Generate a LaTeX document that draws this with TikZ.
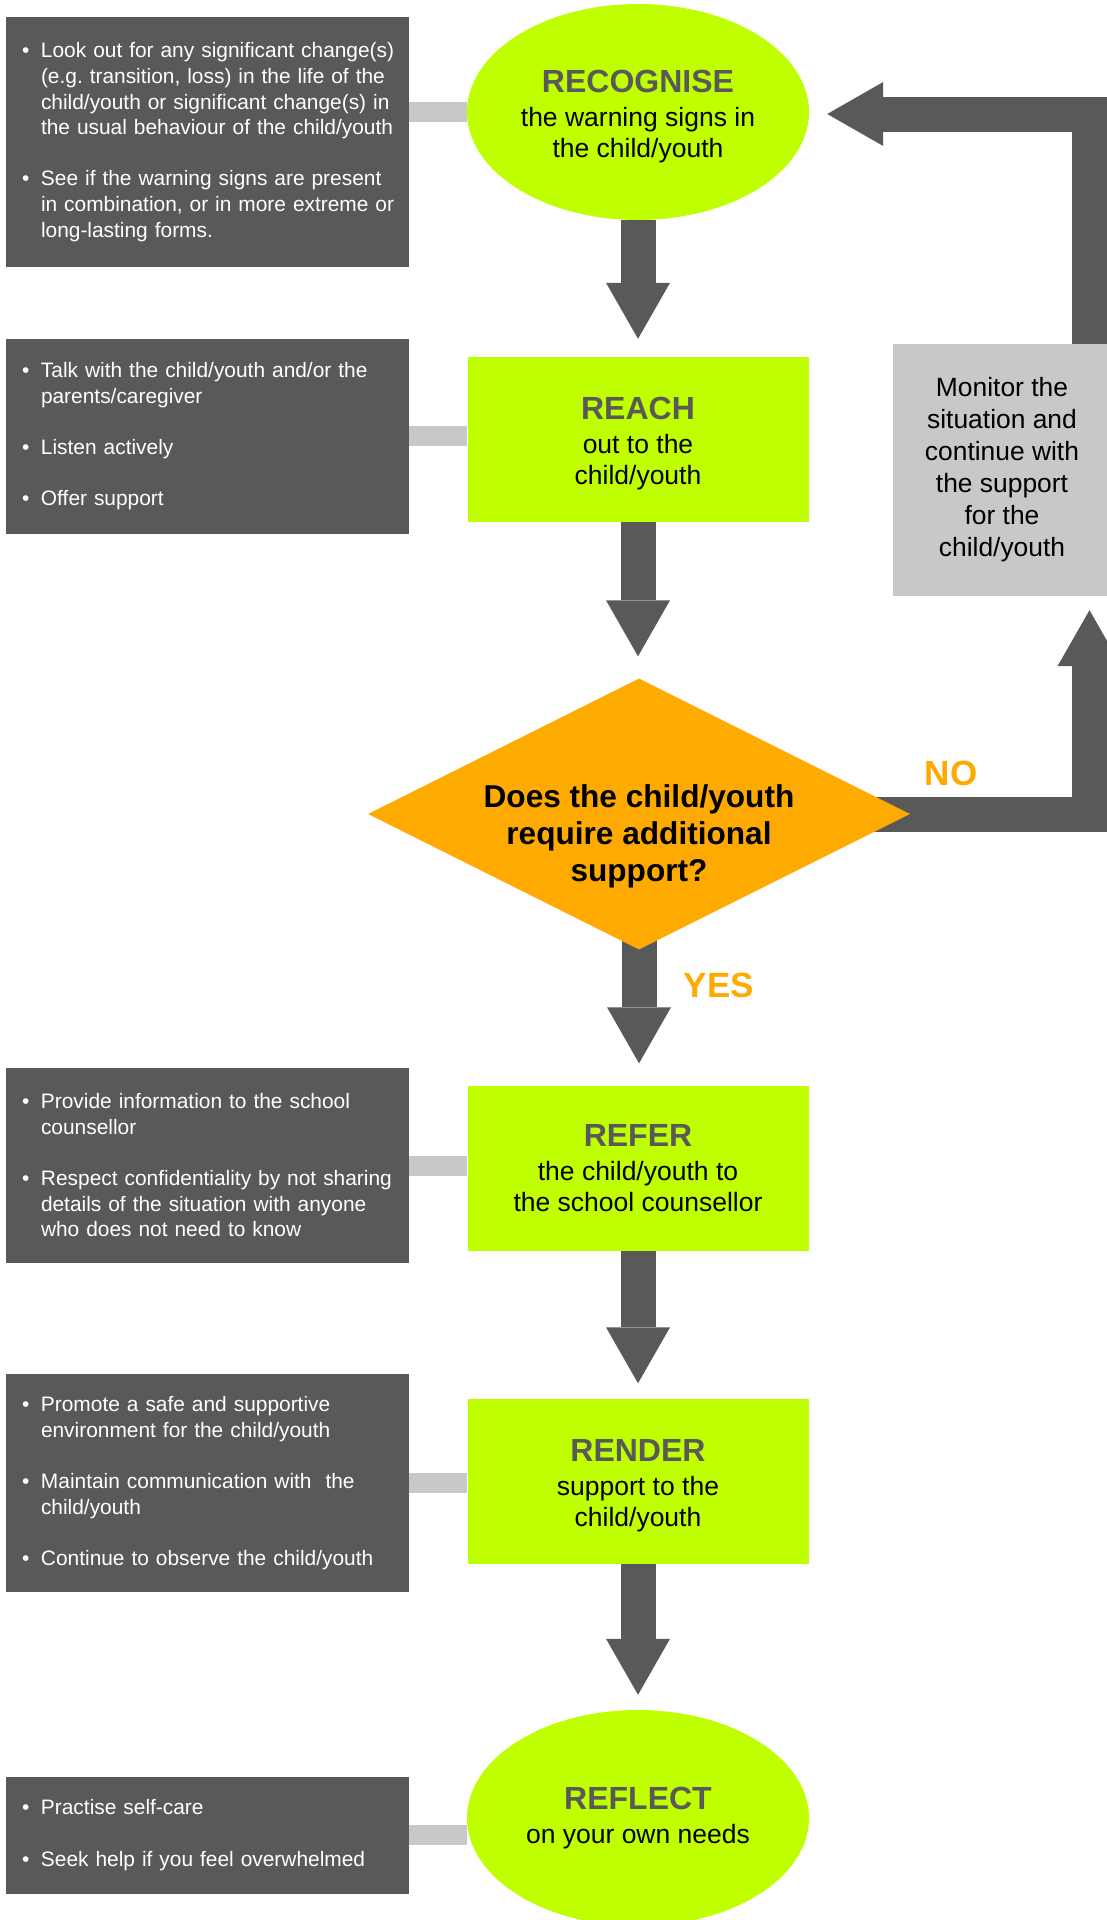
\documentclass[tikz,border=0pt]{standalone}
\usepackage{fontspec}
\setmainfont{Liberation Sans}
\usetikzlibrary{shapes.geometric,arrows.meta,backgrounds}

\definecolor{boxGrey}{RGB}{89,89,89}
\definecolor{lightGrey}{RGB}{200,200,200}
\definecolor{stepGreen}{RGB}{192,255,0}
\definecolor{askOrange}{RGB}{255,170,0}

\newcommand{\tipfont}{\fontsize{20.9}{25.6}\selectfont\hyphenpenalty=10000}
\newcommand{\stepfont}{\fontsize{26.5}{31}\selectfont}
\newcommand{\steptitle}[2][0pt]{{\rule{0pt}{#1}\fontsize{32}{34}\selectfont\bfseries\color{boxGrey}#2}\\[3pt]}
\newcommand{\tip}{\makebox[34pt][l]{\hspace{15pt}\textbullet}}
\newcommand{\more}{\hspace*{34pt}}

\tikzset{
    tipbox/.style={rectangle, fill=boxGrey, text=white, font=\tipfont, align=left,
        text width=400pt, inner xsep=1.5pt, inner ysep=0pt},
    stepbox/.style={rectangle, fill=stepGreen, font=\stepfont, align=center,
        minimum width=341pt, minimum height=165pt, inner sep=0pt},
    stepoval/.style={ellipse, fill=stepGreen, font=\stepfont, align=center,
        minimum width=342pt, minimum height=216pt, inner sep=0pt},
    decision/.style={diamond, fill=askOrange, minimum width=542pt,
        minimum height=271pt, inner sep=0pt},
    asktext/.style={font=\fontsize{31.6}{37}\selectfont\bfseries, align=center},
    monitorbox/.style={rectangle, fill=lightGrey, font=\fontsize{26.4}{32}\selectfont,
        align=center, minimum width=218pt, minimum height=252pt},
    answer/.style={font=\fontsize{35}{40}\selectfont\bfseries, text=askOrange},
    tiplink/.style={draw=lightGrey, line width=20pt},
    flowarrow/.style={draw=boxGrey, line width=35pt,
        -{Triangle[length=56pt,width=64pt,line width=0pt]}}
}

\begin{document}
\begin{tikzpicture}[x=1pt,y=-1pt]

    % Page size
    \useasboundingbox (0,0) rectangle (1107,1920);
    \begin{scope}[on background layer]
        \fill[white] (0,0) rectangle (1107,1920);
    \end{scope}

    % Draw the five steps
    \node[stepoval] (recognise) at (638,112) {\steptitle[30.5pt]{RECOGNISE}the warning signs in\\the child/youth};
    \node[stepbox] (reach) at (638,439.5) {\steptitle[30.5pt]{REACH}out to the\\child/youth};
    \node[stepbox] (refer) at (638,1168) {\steptitle{REFER}the child/youth to\\the school counsellor};
    \node[stepbox] (render) at (638,1481) {\steptitle[30.5pt]{RENDER}support to the\\child/youth};
    \node[stepoval] (reflect) at (638,1818) {\steptitle{REFLECT}on your own needs};

    % The question
    \node[decision] (decision) at (639,814) {};
    \node[asktext] (question) at (639,836) {Does the child/youth\\require additional\\support?};

    % Monitoring box on the right
    \node[monitorbox] (monitor) at (1002,470) {Monitor the\\situation and\\continue with\\the support\\for the\\child/youth};

    % Tips on the left
    \node[tipbox, minimum height=250pt] (tipsRecognise) at (207,142) {%
        \tip Look out for any significant change(s)\\
        \more (e.g.\ transition, loss) in the life of the\\
        \more child/youth or significant change(s) in\\
        \more the usual behaviour of the child/youth\\[25.6pt]
        \tip See if the warning signs are present\\
        \more in combination, or in more extreme or\\
        \more long-lasting forms.};
    \node[tipbox, minimum height=195pt] (tipsReach) at (207,436) {%
        \tip Talk with the child/youth and/or the\\
        \more parents/caregiver\\[25.6pt]
        \tip Listen actively\\[25.6pt]
        \tip Offer support};
    \node[tipbox, minimum height=195pt] (tipsRefer) at (207,1165.5) {%
        \tip Provide information to the school\\
        \more counsellor\\[25.6pt]
        \tip Respect confidentiality by not sharing\\
        \more details of the situation with anyone\\
        \more who does not need to know};
    \node[tipbox, minimum height=218pt] (tipsRender) at (207,1483) {%
        \tip Promote a safe and supportive\\
        \more environment for the child/youth\\[25.6pt]
        \tip Maintain communication with\ \ the\\
        \more child/youth\\[25.6pt]
        \tip Continue to observe the child/youth};
    \node[tipbox, minimum height=117pt] (tipsReflect) at (207,1835) {%
        \tip Practise self-care\\[25.6pt]
        \tip Seek help if you feel overwhelmed};

    % Grey links from tips to steps
    \draw[tiplink] (tipsRecognise.east |- recognise.west) -- (recognise.west);
    \draw[tiplink] (tipsReach.east) -- (tipsReach.east -| reach.west);
    \draw[tiplink] (tipsRefer.east) -- (tipsRefer.east -| refer.west);
    \draw[tiplink] (tipsRender.east) -- (tipsRender.east -| render.west);
    \draw[tiplink] (tipsReflect.east) -- (tipsReflect.east -| reflect.west);

    % Arrows down the chart
    \draw[flowarrow, shorten >=18pt] (recognise.south) -- (reach.north);
    \draw[flowarrow, shorten >=22pt] (reach.south) -- (reach.south |- decision.north);
    \draw[flowarrow, shorten >=15pt] (refer.south) -- (render.north);
    \draw[flowarrow, shorten >=15pt] (render.south) -- (reflect.north);

    % Loop back on the right
    \coordinate (loopLow) at (1089.5,814);
    \coordinate (loopHigh) at (1089.5,114);
    \draw[flowarrow, shorten >=18pt] (monitor.north -| loopHigh) -- (loopHigh) -- (loopHigh -| recognise.east);

    % Arrows leaving the question
    \begin{scope}[on background layer]
        \draw[flowarrow, shorten >=22pt] (decision.center) -- (decision.center |- refer.north);
        \draw[flowarrow, shorten >=14pt] (decision.center) -- (loopLow) -- (monitor.south -| loopLow);
    \end{scope}
    \node[answer] (noLabel) at (951,773) {NO};
    \node[answer] (yesLabel) at (719,985) {YES};

\end{tikzpicture}
\end{document}
